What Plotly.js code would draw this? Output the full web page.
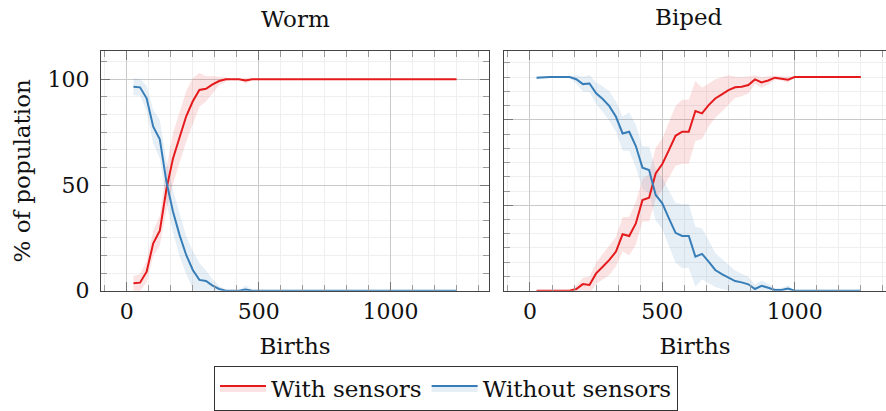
<!DOCTYPE html>
<html><head><meta charset="utf-8">
<script src="https://cdn.plot.ly/plotly-3.0.1.min.js"></script>
<style>html,body{margin:0;padding:0;background:#fff}</style>
</head><body><div id="chart" style="width:886px;height:411px"></div>
<script>
const births = [25,50,75,100,125,150,175,200,225,250,275,300,325,350,375,400,425,450,475,500,525,550,575,600,625,650,675,700,725,750,775,800,825,850,875,900,925,950,975,1000,1025,1050,1075,1100,1125,1150,1175,1200,1225,1250];

const seriesNames = ["With sensors", "Without sensors"];
const panelTitles = ["Worm", "Biped"];
const xTicks = [0, 500, 1000];
const yTicksWorm = [0, 50, 100];

const wormWith = [3.5,3.8,9.0,22.4,28.4,48.0,62.6,72.5,82.5,89.6,95.0,95.5,97.6,99.2,100,100,100,99.4,100,100,100,100,100,100,100,100,100,100,100,100,100,100,100,100,100,100,100,100,100,100,100,100,100,100,100,100,100,100,100,100];
const wormWithSd = [3.5,4,5,6,7,10,12,12,12,11,8,6,4,2,1,0,0,1.5,0.3,0,0,0,0,0,0,0,0,0,0,0,0,0,0,0,0,0,0,0,0,0,0,0,0,0,0,0,0,0,0,0];
const wormWithout = [96.5,96.2,91.0,77.6,71.6,51.6,37.4,26.3,16.9,9.8,5.1,4.6,2.4,0.8,0,0,0,0.6,0,0,0,0,0,0,0,0,0,0,0,0,0,0,0,0,0,0,0,0,0,0,0,0,0,0,0,0,0,0,0,0];
const wormWithoutSd = [4,4,6,8,9,10,10,10,9,9,8,5,3,1.5,0.5,0,0,2,0.3,0,0,0,0,0,0,0,0,0,0,0,0,0,0,0,0,0,0,0,0,0,0,0,0,0,0,0,0,0,0,0];

const bipedWith = [0,0,0,0,0,0,0.8,3.1,2.7,8.1,11.2,14.4,18.3,26.4,25.6,31.5,42.4,43.5,54.9,59.3,65.8,72.5,74.4,74.4,84.1,83.0,86.9,90.0,91.9,93.9,95.2,95.5,96.3,98.9,97.5,98.4,99.7,99.4,98.8,100,100,100,100,100,100,100,100,100,100,100];
const bipedWithSd = [0,0,0,0,0,0,1.5,3,4,5,6,7,7,8,9,10,10,11,12,12,13,14,15,15,14,12,10,9,8,7,5,4.5,4,2,2.5,2,1,1,1.5,0,0,0,0,0,0,0,0,0,0,0];
const bipedWithout = [99.7,100,100,100,100,100,99.0,96.7,97.0,92.4,89.7,86.4,81.4,73.6,74.4,67.7,57.6,56.5,44.8,40.9,33.9,27.1,25.6,25.6,15.9,17.2,13.6,9.7,7.8,6.1,4.5,3.9,3.0,0.8,2.3,1.4,0.3,0.3,1.0,0,0,0,0,0,0,0,0,0,0,0];
const bipedWithoutSd = [0.5,0.3,0.3,0.3,0.3,0.3,2,3.5,4,5,6,7,7,8,9,10,10,11,12,12,13,14,15,15,14,12,10,8,7,6,5,4,3.5,2,2.5,2,1,1,1.5,0,0,0,0,0,0,0,0,0,0,0];

const RED = '#e41a1c', BLUE = '#377eb8';
const RED_FILL = 'rgba(228,26,28,0.12)', BLUE_FILL = 'rgba(55,126,184,0.12)';
const FONT = 'DejaVu Serif';
const TXT = '#111';

function bandTrace(x, mean, sd, fill, xa, ya) {
  const up = mean.map((m, i) => m + sd[i]);
  const lo = mean.map((m, i) => m - sd[i]);
  return {x: x.concat(x.slice().reverse()), y: up.concat(lo.slice().reverse()),
    type: 'scatter', mode: 'lines', fill: 'toself', fillcolor: fill,
    line: {width: 0, color: 'rgba(0,0,0,0)'}, hoverinfo: 'skip', showlegend: false, xaxis: xa, yaxis: ya};
}
function lineTrace(x, y, color, name, xa, ya) {
  return {x: x, y: y, type: 'scatter', mode: 'lines', name: name,
    line: {color: color, width: 2}, showlegend: false, xaxis: xa, yaxis: ya};
}

const data = [
  bandTrace(births, wormWith, wormWithSd, RED_FILL, 'x', 'y'),
  bandTrace(births, wormWithout, wormWithoutSd, BLUE_FILL, 'x', 'y'),
  lineTrace(births, wormWith, RED, seriesNames[0], 'x', 'y'),
  lineTrace(births, wormWithout, BLUE, seriesNames[1], 'x', 'y'),
  bandTrace(births, bipedWith, bipedWithSd, RED_FILL, 'x2', 'y2'),
  bandTrace(births, bipedWithout, bipedWithoutSd, BLUE_FILL, 'x2', 'y2'),
  lineTrace(births, bipedWith, RED, seriesNames[0], 'x2', 'y2'),
  lineTrace(births, bipedWithout, BLUE, seriesNames[1], 'x2', 'y2'),
  {x: [null], y: [null], type: 'scatter', mode: 'lines', fill: 'toself', fillcolor: RED_FILL,
   line: {color: RED, width: 2}, name: seriesNames[0], showlegend: true, xaxis: 'x', yaxis: 'y'},
  {x: [null], y: [null], type: 'scatter', mode: 'lines', fill: 'toself', fillcolor: BLUE_FILL,
   line: {color: BLUE, width: 2}, name: seriesNames[1], showlegend: true, xaxis: 'x', yaxis: 'y'}
];

const tickFont = {family: FONT, size: 22, color: TXT};
const titleFont = {family: FONT, size: 23, color: TXT};
function xAxis(domain, range, anchor) {
  return {domain: domain, range: range, anchor: anchor,
    tickmode: 'array', tickvals: xTicks, ticktext: xTicks.map(String),
    ticks: 'inside', ticklen: 9, tickcolor: '#777', tickwidth: 1,
    showline: true, linecolor: '#444', linewidth: 1, mirror: 'allticks',
    showgrid: true, gridcolor: '#c9c9c9', gridwidth: 1, zeroline: false,
    minor: {dtick: 500/6, tick0: 0, ticks: 'inside', ticklen: 6, tickcolor: '#999', showgrid: true, gridcolor: '#efefef', gridwidth: 1},
    tickfont: tickFont, ticklabelstandoff: 1,
    title: {text: 'Births', font: titleFont, standoff: 14}};
}

const layout = {
  width: 886, height: 411,
  margin: {l: 0, r: 0, t: 0, b: 0},
  paper_bgcolor: '#fff', plot_bgcolor: '#fff',
  font: {family: FONT, size: 23, color: TXT},
  showlegend: true,
  xaxis: xAxis([101/886, 489/886], [-98, 1373], 'y'),
  yaxis: {domain: [1 - 290.7/411, 1 - 51/411], range: [0, 113.4], anchor: 'x',
    tickmode: 'array', tickvals: yTicksWorm, ticktext: yTicksWorm.map(String),
    ticks: 'inside', ticklen: 9, tickcolor: '#777', tickwidth: 1,
    showline: true, linecolor: '#444', linewidth: 1, mirror: 'allticks',
    showgrid: true, gridcolor: '#c9c9c9', zeroline: false,
    minor: {dtick: 50/6, tick0: 0, ticks: 'inside', ticklen: 6, tickcolor: '#999', showgrid: true, gridcolor: '#efefef'},
    tickfont: tickFont, ticklabelstandoff: 6,
    title: {text: '% of population', font: titleFont, standoff: 10}},
  xaxis2: xAxis([504/886, 1], [-98, 1345], 'y2'),
  yaxis2: {domain: [1 - 290.7/411, 1 - 51/411], range: [0, 112.2], anchor: 'x2',
    dtick: 40, tick0: 0, showticklabels: false,
    ticks: 'inside', ticklen: 9, tickcolor: '#777', tickwidth: 1,
    showline: true, linecolor: '#444', linewidth: 1, mirror: false,
    showgrid: true, gridcolor: '#c9c9c9', zeroline: false,
    minor: {dtick: 40/6, tick0: 0, ticks: 'inside', ticklen: 6, tickcolor: '#999', showgrid: true, gridcolor: '#efefef'}},
  legend: {orientation: 'h', x: 446/886, xanchor: 'center', y: 1 - 388/411, yanchor: 'middle',
    bordercolor: '#333', borderwidth: 1, bgcolor: '#fff', itemwidth: 46,
    font: {family: FONT, size: 23, color: TXT}},
  annotations: [
    {text: panelTitles[0], xref: 'paper', yref: 'paper', x: 295/886, y: 1 - 19/411, xanchor: 'center', yanchor: 'middle', showarrow: false, font: titleFont},
    {text: panelTitles[1], xref: 'paper', yref: 'paper', x: 689/886, y: 1 - 17/411, xanchor: 'center', yanchor: 'middle', showarrow: false, font: titleFont}
  ]
};

Plotly.newPlot('chart', data, layout, {displayModeBar: false, staticPlot: true});
</script>
</body></html>
